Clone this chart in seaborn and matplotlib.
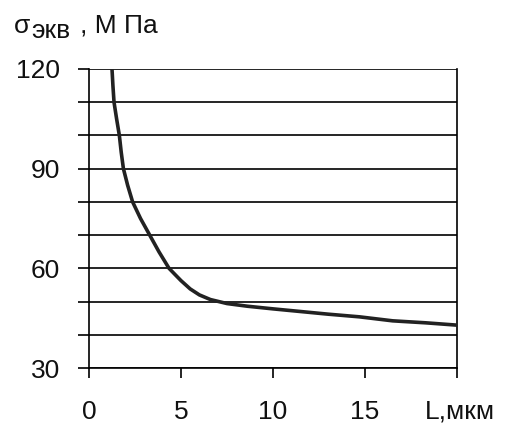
import matplotlib
matplotlib.use("Agg")
import matplotlib.pyplot as plt
import matplotlib.transforms as mtransforms
import seaborn as sns
import pandas as pd

# Equivalent stress vs. length
length_um = [1.25, 1.3, 1.36, 1.5, 1.65, 1.75, 1.87, 2.1, 2.37, 2.8, 3.3, 3.8,
             4.35, 4.7, 5.0, 5.5, 6.0, 6.6, 7.5, 8.6, 10.0, 11.5, 13.0, 14.7, 16.5, 18.3, 20.0]
stress_mpa = [120, 115, 110, 105, 100, 95, 90, 85, 80, 75, 70, 65,
              60, 58, 56.3, 53.8, 52.0, 50.6, 49.4, 48.6, 47.8, 47.0, 46.2, 45.4, 44.2, 43.6, 42.9]

x_ticks = [0, 5, 10, 15, 20]
x_tick_labels = ["0", "5", "10", "15", "L,мкм"]
y_ticks = [30, 40, 50, 60, 70, 80, 90, 100, 110, 120]
y_tick_labels = ["30", "", "", "60", "", "", "90", "", "", "120"]

sns.set_style("white")
plt.rcParams["font.family"] = ["Liberation Sans", "DejaVu Sans"]

W, H = 509, 425
fig = plt.figure(figsize=(W / 100, H / 100), dpi=100)
ax = fig.add_axes([89 / W, 1 - 368 / H, (457 - 89) / W, (368 - 69) / H])

df = pd.DataFrame({"L": length_um, "sigma": stress_mpa})
sns.lineplot(data=df, x="L", y="sigma", ax=ax, color="#222222", lw=2.6,
             sort=False, zorder=5)

ax.set_xlim(0, 20)
ax.set_ylim(30, 120)
ax.set_xticks(x_ticks)
ax.set_xticklabels(x_tick_labels)
ax.set_yticks(y_ticks)
ax.set_yticklabels(y_tick_labels)
ax.set_xlabel("")
ax.set_ylabel("")

ax.grid(axis="y", color="black", lw=1.2)
ax.grid(axis="x", visible=False)
for side in ["left", "bottom", "right"]:
    ax.spines[side].set_visible(True)
    ax.spines[side].set_color("black")
    ax.spines[side].set_linewidth(1.2)
ax.spines["top"].set_visible(False)

ax.tick_params(axis="y", direction="out", length=8, width=1.2, color="black",
               pad=13, labelsize=19, labelcolor="#111111", left=True)
ax.tick_params(axis="x", direction="out", length=7, width=1.2, color="black",
               pad=16, labelsize=19, labelcolor="#111111", bottom=True)

# shift the unit label so it starts just left of the last tick
last = ax.get_xticklabels()[-1]
last.set_horizontalalignment("left")
last.set_transform(last.get_transform() +
                   mtransforms.ScaledTranslation(-32 / 100, 0, fig.dpi_scale_trans))

# y-axis title with subscript
base_y = 1 - 33 / H
fig.text(14 / W, base_y, "σ", fontsize=19, va="baseline", ha="left", color="#111111")
fig.text(31 / W, 1 - 38 / H, "экв", fontsize=19, va="baseline", ha="left", color="#111111")
fig.text(80 / W, base_y, ", М Па", fontsize=19, va="baseline", ha="left", color="#111111")

fig.savefig("out.png", dpi=100)
